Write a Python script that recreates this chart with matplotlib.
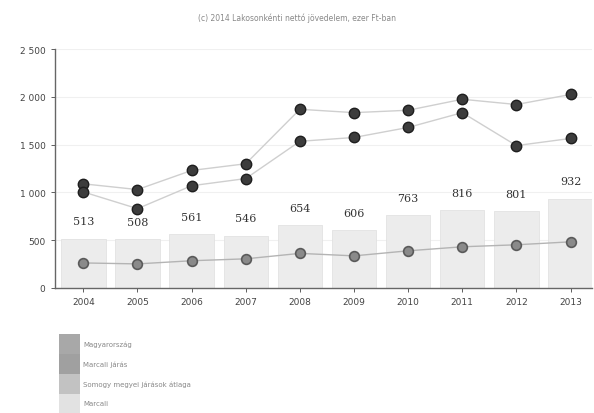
import numpy as np
import matplotlib.pyplot as plt
from matplotlib.patches import Patch

# Data
years = ['2004', '2005', '2006', '2007', '2008', '2009', '2010', '2011', '2012', '2013']
marcali = [513, 508, 561, 546, 654, 606, 763, 816, 801, 932]
magyarorszag = [1090, 1030, 1230, 1300, 1870, 1835, 1860, 1975, 1920, 2025]
somogy = [1005, 830, 1070, 1145, 1535, 1575, 1680, 1835, 1490, 1565]
marcali_jaras = [262, 252, 285, 305, 362, 336, 389, 431, 452, 483]

title = '(c) 2014 Lakosonkénti nettó jövedelem, ezer Ft-ban'
legend_labels = ['Magyarország', 'Marcali járás', 'Somogy megyei járások átlaga', 'Marcali']

fig = plt.figure(figsize=(5.94, 4.14), dpi=100)
ax = fig.add_axes([0.092, 0.302, 0.905, 0.577])

x = np.arange(len(years))

# bars for Marcali
bars = ax.bar(x, marcali, width=0.82, color='#ececec', edgecolor='#e2e2e2', linewidth=0.6, zorder=2)
for xi, v in zip(x, marcali):
    ax.annotate(str(v), (xi, v), xytext=(0, 9), textcoords='offset points',
                ha='center', va='bottom', fontsize=8, color='#333333', family='DejaVu Serif')

# lines
ax.plot(x, magyarorszag, color='#cfcfcf', lw=1.0, marker='o', ms=7.5,
        mfc='#3c3c3c', mec='#1e1e1e', mew=1.0, zorder=4)
ax.plot(x, somogy, color='#cfcfcf', lw=1.0, marker='o', ms=7.5,
        mfc='#3c3c3c', mec='#1e1e1e', mew=1.0, zorder=4)
ax.plot(x, marcali_jaras, color='#b4b4b4', lw=1.0, marker='o', ms=7,
        mfc='#8a8a8a', mec='#5a5a5a', mew=1.2, zorder=4)

ax.set_xlim(-0.53, 9.4)
ax.set_ylim(0, 2500)
ax.set_yticks([0, 500, 1000, 1500, 2000, 2500])
ax.set_yticklabels(['0', '500', '1 000', '1 500', '2 000', '2 500'])
ax.set_xticks(x)
ax.set_xticklabels(years)
ax.tick_params(axis='both', labelsize=6.5, colors='#444444', length=3, width=0.6)
ax.yaxis.grid(True, color='#f0f0f0', lw=0.8, zorder=0)
ax.set_axisbelow(True)
for s in ['top', 'right']:
    ax.spines[s].set_visible(False)
for s in ['left', 'bottom']:
    ax.spines[s].set_color('#666666')
    ax.spines[s].set_linewidth(1.0)

fig.text(0.5, 0.957, title, ha='center', va='center', fontsize=5.5, color='#888888')

handles = [Patch(facecolor=c, edgecolor='none') for c in ['#a8a8a8', '#a0a0a0', '#c2c2c2', '#e2e2e2']]
fig.legend(handles, legend_labels, loc='upper left', bbox_to_anchor=(0.1, 0.19),
           frameon=False, fontsize=5, handlelength=3.0, handleheight=4.0,
           labelspacing=0.0, handletextpad=0.4, borderpad=0, borderaxespad=0,
           labelcolor='#888888')

fig.savefig('out.png', dpi=100)
